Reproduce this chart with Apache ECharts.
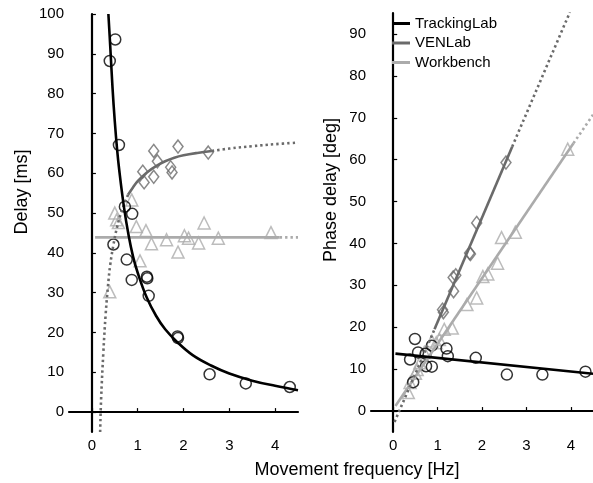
<!DOCTYPE html>
<html><head><meta charset="utf-8">
<script src="https://cdn.jsdelivr.net/npm/echarts@6/dist/echarts.min.js"></script>
<style>html,body{margin:0;padding:0;background:#fff}#c{width:593px;height:483px}</style>
</head><body><div id="c"></div>
<script>
// ---- data ----
const xTicks = [0, 1, 2, 3, 4];
const delayTicks = [0, 10, 20, 30, 40, 50, 60, 70, 80, 90, 100];
const phaseTicks = [0, 10, 20, 30, 40, 50, 60, 70, 80, 90];
const seriesNames = ['TrackingLab', 'VENLab', 'Workbench'];

// Left panel: delay [ms]
const trackDelay = [[0.39,88.2],[0.51,93.6],[0.59,67.1],[0.72,51.6],[0.88,49.8],[0.47,42.1],[0.76,38.3],[0.87,33.2],[1.20,34.0],[1.21,33.6],[1.24,29.2],[1.87,19.0],[1.88,18.6],[2.57,9.5],[3.36,7.2],[4.32,6.3]];
const venDelay = [[1.35,65.6],[1.88,66.7],[2.54,65.2],[1.43,63.0],[1.11,60.4],[1.72,61.5],[1.75,60.2],[1.14,57.7],[1.35,59.1]];
const benchDelay = [[0.87,53.3],[0.50,50.0],[0.54,48.3],[0.58,47.6],[0.97,46.6],[1.18,45.6],[1.30,42.3],[1.63,43.3],[1.88,40.2],[2.02,44.3],[2.11,43.7],[2.33,42.5],[2.45,47.5],[2.76,43.7],[3.91,45.1],[1.05,38.0],[0.39,30.2]];

const trackDelayFit = [[0.36,100],[0.40,92],[0.45,81.5],[0.50,73],[0.55,66],[0.60,60.5],[0.70,51.5],[0.80,44.5],[0.90,39],[1.00,35],[1.20,28.7],[1.40,24.2],[1.60,20.8],[1.87,17.5],[2.20,14.3],[2.60,11.7],[3.00,9.7],[3.50,7.9],[4.00,6.6],[4.50,5.5]];
const venDelayFit = [[0.79,54.6],[0.90,56.5],[1.00,58.0],[1.20,60.2],[1.40,61.8],[1.60,63.0],[1.80,63.9],[2.00,64.5],[2.30,65.1],[2.62,65.6]];
const venDelayExtHigh = [[2.62,65.6],[3.00,66.2],[3.50,66.8],[4.00,67.3],[4.50,67.7]];
const venDelayExtLow = [[0.18,-5],[0.20,3],[0.25,15],[0.30,24.5],[0.35,31.5],[0.40,37],[0.47,42],[0.55,46.5],[0.65,50.5],[0.79,54.6]];
const benchDelayFit = [[0.07,43.9],[4.10,43.9]];
const benchDelayExt = [[4.10,43.9],[4.50,43.9]];

// Right panel: phase delay [deg]
const trackPhase = [[0.38,12.3],[0.49,17.2],[0.56,14.0],[0.45,6.9],[0.73,13.7],[0.74,10.7],[0.87,10.6],[0.87,15.6],[1.20,14.9],[1.23,13.1],[1.86,12.7],[2.56,8.7],[3.36,8.7],[4.33,9.4]];
const venPhase = [[1.35,31.9],[1.88,44.9],[2.54,59.3],[1.41,32.4],[1.11,24.2],[1.72,37.7],[1.74,37.5],[1.13,23.6],[1.36,28.6]];
const benchPhase = [[0.38,6.8],[0.34,4.4],[0.50,9.0],[0.54,9.9],[0.60,11.5],[0.70,14.0],[0.87,16.7],[0.97,16.3],[1.04,17.1],[1.15,19.5],[1.33,19.8],[1.66,25.4],[1.88,27.0],[2.02,32.1],[2.13,32.7],[2.35,35.3],[2.44,41.4],[2.75,42.7],[3.93,62.5]];

const trackPhaseFit = [[0.05,13.7],[4.50,8.9]];
const venPhaseFit = [[0.93,19.5],[2.68,63.1]];
const venPhaseExtLow = [[0.03,-2.6],[0.93,19.5]];
const venPhaseExtHigh = [[2.68,63.1],[3.98,95.2]];
const benchPhaseFit = [[0.05,1.2],[4.06,63.9]];
const benchPhaseExt = [[4.06,63.9],[4.50,70.7]];

// ---- style ----
const C_TRACK = '#000000', C_VEN = '#6a6a6a', C_BENCH = '#ababab';
const FONT = 'Liberation Sans, Arial, sans-serif';

function scatter(data, sym, size, color, xi) {
  return { type: 'scatter', xAxisIndex: xi, yAxisIndex: xi, data: data, symbol: sym, symbolSize: size,
    itemStyle: { color: 'rgba(0,0,0,0)', borderColor: color, borderWidth: 1.5 }, z: 3, silent: true };
}
function line(data, color, xi, dotted, name) {
  const s = { type: 'line', xAxisIndex: xi, yAxisIndex: xi, data: data, smooth: data.length > 2 ? 0.4 : false,
    showSymbol: false, symbol: 'none', color: color,
    lineStyle: { color: color, width: 2.6, type: dotted ? [2.4, 3] : 'solid', cap: 'butt' }, z: 4, silent: true, clip: true };
  if (name) s.name = name;
  return s;
}
function xAxis(gi) {
  return { type: 'value', gridIndex: gi, min: -0.5, max: 4.5,
    axisLine: { show: true, lineStyle: { color: '#000', width: 2.2 } },
    axisTick: { show: true, inside: true, length: 4, lineStyle: { color: '#000', width: 1.2 }, customValues: xTicks },
    axisLabel: { color: '#000', fontSize: 15, fontFamily: FONT, margin: 6, customValues: xTicks },
    splitLine: { show: false } };
}
function yAxis(gi, min, max, ticks) {
  return { type: 'value', gridIndex: gi, min: min, max: max,
    axisLine: { show: true, lineStyle: { color: '#000', width: 2.2 } },
    axisTick: { show: true, inside: true, length: 4, lineStyle: { color: '#000', width: 1.2 }, customValues: ticks },
    axisLabel: { color: '#000', fontSize: 15, fontFamily: FONT, margin: 5, customValues: ticks },
    splitLine: { show: false } };
}

const chart = echarts.init(document.getElementById('c'), null, { renderer: 'canvas' });
chart.setOption({
  animation: false,
  backgroundColor: '#fff',
  grid: [
    { left: 69, top: 14, width: 229, height: 418 },
    { left: 371, top: 13, width: 228.5, height: 419 }
  ],
  xAxis: [xAxis(0), xAxis(1)],
  yAxis: [yAxis(0, -5, 100, delayTicks), yAxis(1, -5, 95, phaseTicks)],
  legend: {
    orient: 'vertical', left: 387, top: 11, itemWidth: 18, itemHeight: 3, itemGap: 4.5, icon: 'rect',
    textStyle: { color: '#000', fontSize: 15, fontFamily: FONT, lineHeight: 15 },
    data: [
      { name: seriesNames[0], itemStyle: { color: C_TRACK } },
      { name: seriesNames[1], itemStyle: { color: C_VEN } },
      { name: seriesNames[2], itemStyle: { color: C_BENCH } }
    ]
  },
  graphic: [
    { type: 'text', x: 22, y: 192, rotation: Math.PI / 2,
      style: { text: 'Delay [ms]', fill: '#000', font: '18px ' + FONT, textAlign: 'center', textVerticalAlign: 'middle' } },
    { type: 'text', x: 331, y: 190, rotation: Math.PI / 2,
      style: { text: 'Phase delay [deg]', fill: '#000', font: '18px ' + FONT, textAlign: 'center', textVerticalAlign: 'middle' } },
    { type: 'text', x: 357, y: 470,
      style: { text: 'Movement frequency [Hz]', fill: '#000', font: '18px ' + FONT, textAlign: 'center', textVerticalAlign: 'middle' } }
  ],
  series: [
    // left panel
    scatter(benchDelay, 'triangle', 12, C_BENCH, 0),
    scatter(venDelay, 'diamond', [10, 13], C_VEN, 0),
    scatter(trackDelay, 'circle', 11, C_TRACK, 0),
    line(benchDelayFit, C_BENCH, 0, false),
    line(benchDelayExt, C_BENCH, 0, true),
    line(venDelayFit, C_VEN, 0, false),
    line(venDelayExtHigh, C_VEN, 0, true),
    line(venDelayExtLow, C_VEN, 0, true),
    line(trackDelayFit, C_TRACK, 0, false),
    // right panel
    scatter(benchPhase, 'triangle', 12, C_BENCH, 1),
    scatter(venPhase, 'diamond', [10, 13], C_VEN, 1),
    scatter(trackPhase, 'circle', 11, C_TRACK, 1),
    line(benchPhaseFit, C_BENCH, 1, false, seriesNames[2]),
    line(benchPhaseExt, C_BENCH, 1, true),
    line(venPhaseExtLow, C_VEN, 1, true),
    line(venPhaseFit, C_VEN, 1, false, seriesNames[1]),
    line(venPhaseExtHigh, C_VEN, 1, true),
    line(trackPhaseFit, C_TRACK, 1, false, seriesNames[0])
  ]
});
</script></body></html>
